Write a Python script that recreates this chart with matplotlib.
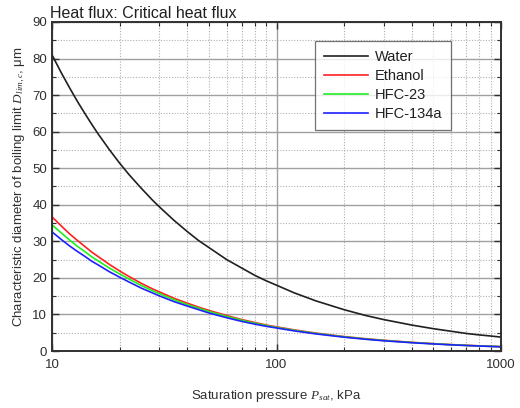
import matplotlib
matplotlib.use("Agg")
import matplotlib.pyplot as plt
from matplotlib.ticker import LogLocator, MultipleLocator, NullFormatter, FixedLocator, FixedFormatter

plt.rcParams['font.family'] = ['Liberation Sans', 'DejaVu Sans']
plt.rcParams['mathtext.fontset'] = 'custom'
plt.rcParams['mathtext.it'] = 'Liberation Serif:italic'
plt.rcParams['mathtext.rm'] = 'Liberation Sans'

# values
pressure = [10, 11, 12, 13, 14, 15, 16, 18, 20, 22, 25, 28, 30, 35, 40, 45, 50, 60, 70, 80, 90,
            100, 120, 150, 200, 250, 300, 400, 500, 600, 700, 800, 900, 1000]

water = [81.0, 76.1, 71.9, 68.2, 65.0, 62.1, 59.5, 55.1, 51.4, 48.3, 44.5, 41.3, 39.5, 35.7, 32.7,
         30.2, 28.3, 25.0, 22.7, 20.7, 19.2, 18.0, 15.9, 13.7, 11.3, 9.7, 8.6, 7.1, 6.1, 5.4, 4.8,
         4.4, 4.1, 3.8]
ethanol = [36.7, 34.2, 32.0, 30.2, 28.6, 27.1, 25.9, 23.7, 21.9, 20.4, 18.5, 17.0, 16.2, 14.4, 13.1,
           12.0, 11.1, 9.7, 8.6, 7.8, 7.1, 6.6, 5.77, 4.89, 3.95, 3.35, 2.93, 2.37, 2.01, 1.75, 1.56,
           1.42, 1.30, 1.2]
hfc23 = [34.5, 32.3, 30.3, 28.6, 27.2, 25.8, 24.7, 22.7, 21.1, 19.7, 17.9, 16.5, 15.7, 14.0, 12.7,
         11.7, 10.8, 9.45, 8.4, 7.6, 6.95, 6.45, 5.65, 4.78, 3.87, 3.28, 2.87, 2.32, 1.97, 1.72, 1.53,
         1.39, 1.27, 1.18]
hfc134a = [32.6, 30.5, 28.7, 27.2, 25.9, 24.6, 23.6, 21.7, 20.2, 18.9, 17.2, 15.9, 15.1, 13.5, 12.3,
           11.3, 10.4, 9.1, 8.1, 7.35, 6.75, 6.3, 5.5, 4.67, 3.78, 3.2, 2.8, 2.27, 1.93, 1.68, 1.5,
           1.36, 1.25, 1.15]

series = [("Water", water, "#202020"),
          ("Ethanol", ethanol, "#ff2020"),
          ("HFC-23", hfc23, "#20ee20"),
          ("HFC-134a", hfc134a, "#2020ff")]

fig = plt.figure(figsize=(5.2, 4.08), dpi=100)
ax = fig.add_axes([52 / 520, 1 - 351 / 408, 449 / 520, 329 / 408])

for name, vals, col in series:
    ax.plot(pressure, vals, color=col, lw=1.2, label=name)

ax.set_xscale("log")
ax.set_xlim(10, 1000)
ax.set_ylim(0, 90)

ax.xaxis.set_major_locator(FixedLocator([10, 100, 1000]))
ax.xaxis.set_major_formatter(FixedFormatter(["10", "100", "1000"]))
ax.xaxis.set_minor_locator(LogLocator(base=10, subs=range(2, 10)))
ax.xaxis.set_minor_formatter(NullFormatter())
ax.yaxis.set_major_locator(MultipleLocator(10))
ax.yaxis.set_minor_locator(MultipleLocator(5))

ax.grid(True, which="major", color="#a0a0a0", lw=1.0, ls="-")
ax.grid(True, which="minor", color="#b0b0b0", lw=0.8, ls=(0, (1, 1.5)))
ax.set_axisbelow(True)

ax.tick_params(which="both", direction="in", top=True, right=True, colors="#303030", labelsize=9.5)
ax.tick_params(which="major", length=5, width=1.0)
ax.tick_params(which="minor", length=3, width=0.8)
ax.tick_params(axis="x", which="major", pad=6)
for s in ax.spines.values():
    s.set_color("#303030")
    s.set_linewidth(1.4)

ax.set_xlabel("Saturation pressure $\\mathit{P}_{\\mathit{sat}}$, kPa", fontsize=9.5, color="#303030", labelpad=12)
ax.set_ylabel("Characteristic diameter of boiling limit $\\mathit{D}_{\\mathit{lim,c}}$, \u03bcm",
              fontsize=9.5, color="#303030", labelpad=4)
ax.set_title("Heat flux: Critical heat flux", loc="left", fontsize=11.5, color="#202020", pad=3, x=-0.005)

leg = ax.legend(loc="upper right", bbox_to_anchor=(0.889, 0.942), fontsize=10.5, frameon=True,
                fancybox=False, edgecolor="#505050", borderaxespad=0, handlelength=3.0,
                labelspacing=0.35, borderpad=0.6, handletextpad=0.5)
leg.get_frame().set_linewidth(0.9)
for t in leg.get_texts():
    t.set_color("#202020")

fig.savefig("out.png", dpi=100)
